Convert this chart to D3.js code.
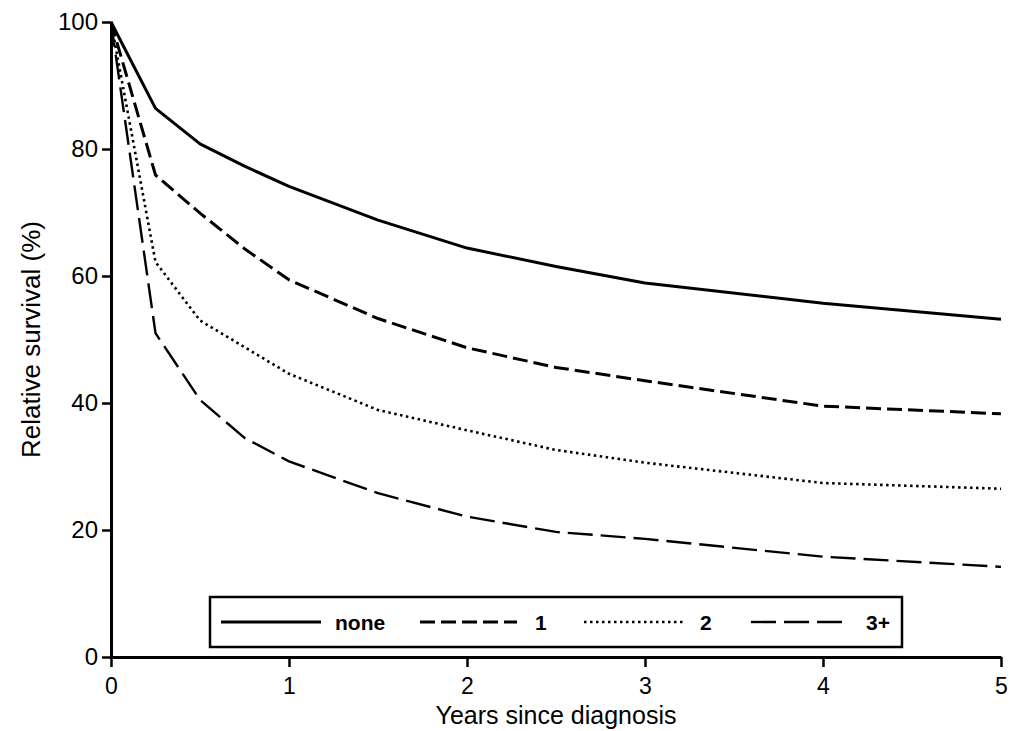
<!DOCTYPE html>
<html>
<head>
<meta charset="utf-8">
<script src="https://cdn.jsdelivr.net/npm/d3@7"></script>
<style>
  html, body { margin: 0; padding: 0; background: #fff; }
  svg { display: block; font-family: "Liberation Sans", Arial, Helvetica, sans-serif; }
</style>
</head>
<body>
<svg id="chart" width="1012" height="731"></svg>
<script>
// Years since diagnosis at which relative survival was estimated
const years = [0, 0.25, 0.5, 0.75, 1, 1.5, 2, 2.5, 3, 4, 5];

// Relative survival (%) by number of comorbid conditions
const survNone  = [100, 86.4, 80.8, 77.3, 74.1, 68.8, 64.4, 61.5, 58.9, 55.7, 53.2];
const survOne   = [100, 75.9, 69.9, 64.3, 59.4, 53.3, 48.7, 45.6, 43.5, 39.5, 38.3];
const survTwo   = [100, 62.2, 53.0, 48.8, 44.6, 38.9, 35.7, 32.6, 30.6, 27.4, 26.5];
const survThree = [100, 51.0, 40.5, 34.5, 30.8, 25.8, 22.1, 19.7, 18.6, 15.8, 14.2];

const seriesNames = ["none", "1", "2", "3+"];
const xTicks = [0, 1, 2, 3, 4, 5];
const yTicks = [0, 20, 40, 60, 80, 100];

const lineStyles = {
  "none": { dash: null,   width: 3 },
  "1":    { dash: "15,6", width: 3 },
  "2":    { dash: "2.5,3.5", width: 2.6 },
  "3+":   { dash: "25,8", width: 2.4 }
};

const series = [
  { name: seriesNames[0], values: survNone },
  { name: seriesNames[1], values: survOne },
  { name: seriesNames[2], values: survTwo },
  { name: seriesNames[3], values: survThree }
];

const svg = d3.select("#chart");
const x = d3.scaleLinear().domain([0, 5]).range([111, 1001]);
const y = d3.scaleLinear().domain([0, 100]).range([657, 22]);

// Axes
const xAxis = svg.append("g")
  .attr("transform", `translate(0,${y(0)})`)
  .call(d3.axisBottom(x).tickValues(xTicks).tickFormat(d3.format("d"))
    .tickSize(10).tickPadding(11).tickSizeOuter(0));
const yAxis = svg.append("g")
  .attr("transform", `translate(${x(0)},0)`)
  .call(d3.axisLeft(y).tickValues(yTicks).tickFormat(d3.format("d"))
    .tickSize(9).tickPadding(4).tickSizeOuter(0));

[xAxis, yAxis].forEach(g => {
  g.select(".domain").attr("stroke", "#000").attr("stroke-width", 3);
  g.selectAll(".tick line").attr("stroke", "#000").attr("stroke-width", 2.5);
  g.selectAll(".tick text").attr("fill", "#000").style("font-size", "24px")
    .style("font-family", "'Liberation Sans', Arial, sans-serif");
});
xAxis.selectAll(".tick text").style("font-size", "23px");

// Axis titles
svg.append("text")
  .attr("x", (x(0) + x(5)) / 2).attr("y", 724)
  .attr("text-anchor", "middle").style("font-size", "25px").attr("fill", "#000")
  .text("Years since diagnosis");
svg.append("text")
  .attr("transform", `translate(40,${(y(0) + y(100)) / 2}) rotate(-90)`)
  .attr("text-anchor", "middle").style("font-size", "26px").attr("fill", "#000")
  .text("Relative survival (%)");

// Survival curves
const line = d3.line()
  .x((d, i) => x(years[i]))
  .y(d => y(d));

svg.append("g").selectAll("path")
  .data(series)
  .join("path")
  .attr("d", d => line(d.values))
  .attr("fill", "none")
  .attr("stroke", "#000")
  .attr("stroke-width", d => lineStyles[d.name].width)
  .attr("stroke-dasharray", d => lineStyles[d.name].dash)
  .attr("stroke-linejoin", "round");

// Legend
const legend = svg.append("g");
legend.append("rect")
  .attr("x", 210).attr("y", 597).attr("width", 692).attr("height", 50)
  .attr("fill", "#fff").attr("stroke", "#000").attr("stroke-width", 2.5);

const legendItems = [
  { name: seriesNames[0], x0: 221, x1: 321, tx: 335 },
  { name: seriesNames[1], x0: 420, x1: 517, tx: 535 },
  { name: seriesNames[2], x0: 584, x1: 685, tx: 700 },
  { name: seriesNames[3], x0: 751, x1: 850, tx: 866 }
];
legendItems.forEach(it => {
  const st = lineStyles[it.name];
  legend.append("line")
    .attr("x1", it.x0).attr("x2", it.x1).attr("y1", 622).attr("y2", 622)
    .attr("stroke", "#000").attr("stroke-width", st.width)
    .attr("stroke-dasharray", st.dash);
  legend.append("text")
    .attr("x", it.tx).attr("y", 629.5)
    .style("font-size", "21px").style("font-weight", "bold").attr("fill", "#000")
    .text(it.name);
});
</script>
</body>
</html>
